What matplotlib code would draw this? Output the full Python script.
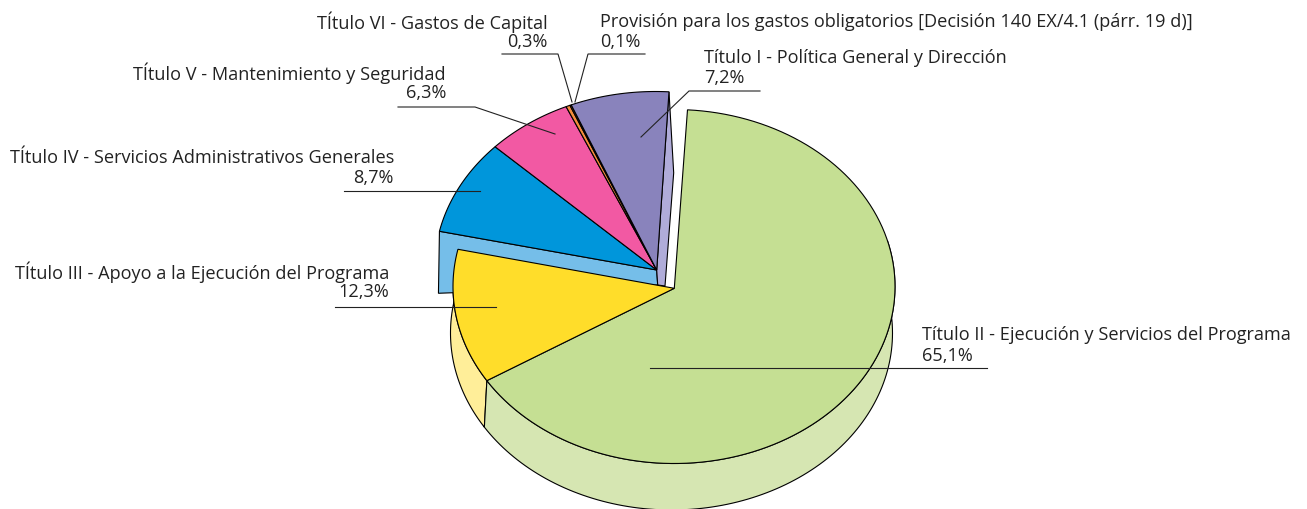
import numpy as np
import matplotlib
matplotlib.use("Agg")
import matplotlib.pyplot as plt

# --- data ---
categories = [
    "Título II - Ejecución y Servicios del Programa",
    "TÍtulo III - Apoyo a la Ejecución del Programa",
    "TÍtulo IV - Servicios Administrativos Generales",
    "TÍtulo V - Mantenimiento y Seguridad",
    "TÍtulo VI - Gastos de Capital",
    "Provisión para los gastos obligatorios [Decisión 140 EX/4.1 (párr. 19 d)]",
    "Título I - Política General y Dirección",
]
shares = [65.1, 12.3, 8.7, 6.3, 0.3, 0.1, 7.2]
share_labels = ["65,1%", "12,3%", "8,7%", "6,3%", "0,3%", "0,1%", "7,2%"]

# --- style ---
top_colors = ["#C5DF93", "#FFDD2A", "#0096DB", "#F259A3", "#F58E3C", "#F58E3C", "#8983BC"]
wall_colors = {0: "#D6E6B2", 1: "#FFEE99", 2: "#75BEE9", 6: "#B0ACD9"}
START = 86.5
RX, RY = 221.0, 177.0
LOWER_RIM = (674.0, 286.5)
LOWER_APEX = (674.3, 288.3)
UPPER_RIM = (655.5, 268.5)
UPPER_APEX = (656.7, 270.0)
BOTTOM_RIM = (671.5, 333.0)
LOWER_IDX = [0, 1]
UPPER_IDX = [2, 3, 4, 5, 6]
EDGE = 0.8
FONT = 13.1
plt.rcParams["font.family"] = ["Open Sans", "DejaVu Sans"]

W, H = 1307, 509
fig = plt.figure(figsize=(W / 100, H / 100), dpi=100)
ax = fig.add_axes([0, 0, 1, 1])
ax.set_xlim(0, W)
ax.set_ylim(H, 0)
ax.axis("off")

# slice angle ranges, clockwise from START
sweeps = np.array(shares) / sum(shares) * 360
ends = START - np.cumsum(sweeps)
starts = ends + sweeps


def rim(c, deg):
    t = np.radians(deg)
    return c[0] + RX * np.cos(t), c[1] - RY * np.sin(t)


def arc(c, a, b, n=120):
    return rim(c, np.linspace(a, b, n))


def top_slice(i, c, apex):
    x, y = arc(c, starts[i], ends[i])
    ax.fill(np.r_[apex[0], x], np.r_[apex[1], y], facecolor=top_colors[i],
            edgecolor="black", lw=EDGE, joinstyle="miter", zorder=3)


# outer wall of the two front slices: the same ellipse shifted downwards
front_walls = [
    (1, ends[1] + 360, starts[1] + 360),
    (0, ends[0] + 360, 375.0),
]
for i, a, b in front_walls:
    x1, y1 = arc(LOWER_RIM, a, b)
    x2, y2 = arc(BOTTOM_RIM, a, b)
    ax.fill(np.r_[x1, x2[::-1]], np.r_[y1, y2[::-1]], facecolor=wall_colors[i],
            edgecolor="black", lw=EDGE, zorder=1)

# radial walls of the displaced group
ax_, ay_ = UPPER_APEX
blue_rim = rim(UPPER_RIM, starts[2])
ax.fill([ax_, blue_rim[0], blue_rim[0] - 1, ax_ + 1],
        [ay_, blue_rim[1], blue_rim[1] + 62, ay_ + 15],
        facecolor=wall_colors[2], edgecolor="black", lw=EDGE, zorder=2)
purple_rim = rim(UPPER_RIM, ends[6])
ax.fill([ax_, purple_rim[0], purple_rim[0] + 4.7, ax_ + 8.3, ax_ + 1],
        [ay_, purple_rim[1], purple_rim[1] + 81, ay_ + 16, ay_ + 15],
        facecolor=wall_colors[6], edgecolor="black", lw=EDGE, zorder=2)

for i in UPPER_IDX:
    top_slice(i, UPPER_RIM, UPPER_APEX)
for i in LOWER_IDX:
    top_slice(i, LOWER_RIM, LOWER_APEX)

# labels: (anchor x, first line y, second line y, alignment)
label_pos = [
    (922, 335, 356, "left"),
    (389, 272, 292, "right"),
    (394, 158, 178, "right"),
    (446, 73, 93, "right"),
    (548, 22, 42, "right"),
    (600, 22, 42, "left"),
    (704, 58, 78, "left"),
]
leaders = [
    ([987, 650], [368, 368]),
    ([335, 496], [307, 307]),
    ([344, 480], [191, 191]),
    ([398, 475, 555], [107, 107, 134]),
    ([502, 558, 572], [54, 54, 102]),
    ([645, 588, 575], [54, 54, 102]),
    ([760, 689, 641], [91, 91, 137]),
]
for cat, pct, (x, y1, y2, ha), (lx, ly) in zip(categories, share_labels, label_pos, leaders):
    ax.text(x, y1, cat, ha=ha, va="center", fontsize=FONT, color="#222222", zorder=6)
    ax.text(x, y2, pct, ha=ha, va="center", fontsize=FONT, color="#222222", zorder=6)
    ax.plot(lx, ly, color="#222222", lw=0.8, solid_joinstyle="miter", zorder=5)

fig.savefig("out.png", dpi=100, facecolor="white")
